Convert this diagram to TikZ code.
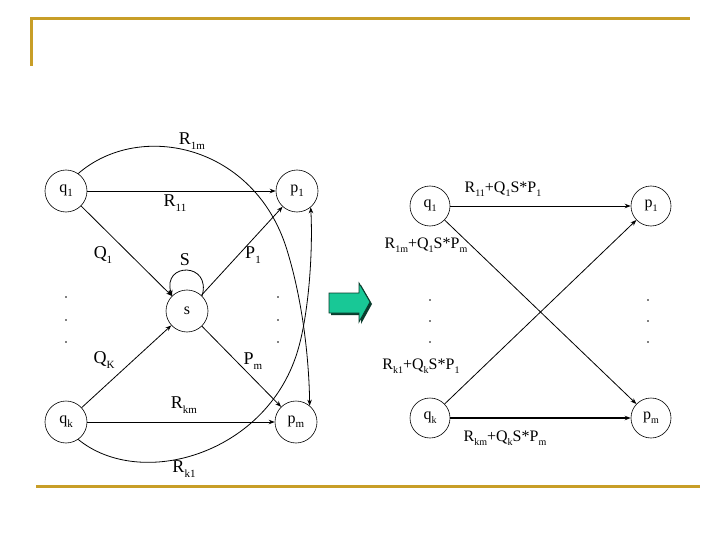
\documentclass[tikz,border=0pt]{standalone}
\usepackage{fontspec}
\setmainfont{Liberation Serif}
\usetikzlibrary{arrows.meta}
\definecolor{gold}{RGB}{200,158,40}
\definecolor{tealfill}{RGB}{24,200,150}
\definecolor{tealdark}{RGB}{10,60,45}
\newcommand\sbs[1]{\raisebox{-0.25em}{\fontsize{11}{11}\selectfont #1}}
\newcommand\rsbs[1]{\raisebox{-0.25em}{\fontsize{10}{10}\selectfont #1}}
\begin{document}
\begin{tikzpicture}[x=1pt,y=-1pt,
  st/.style={circle,draw,line width=0.6pt,minimum size=42pt,inner sep=0pt,font=\fontsize{16}{16}\selectfont},
  rst/.style={st,minimum size=40pt},
  arr/.style={line width=0.8pt,-{Stealth[length=6pt,width=4.5pt]}},
  lab/.style={inner sep=0pt,font=\fontsize{18}{18}\selectfont},
  rlab/.style={inner sep=0pt,font=\fontsize{16}{16}\selectfont},
  dotm/.style={circle,fill,inner sep=0pt,minimum size=1.8pt},
  gline/.style={gold,line width=3pt}]
\useasboundingbox (0,0) rectangle (720,540);
\fill[white] (0,0) rectangle (720,540);
% frame lines
\draw[gline] (31,66) -- (31,19) -- (690,19);
\draw[gline] (36,486) -- (700,486);

% left graph
\node[st] (q1) at (66,191) {q\sbs{1}};
\node[st] (p1) at (297,191) {p\sbs{1}};
\node[st] (s)  at (187,311) {s};
\node[st] (qk) at (66,422) {q\sbs{k}};
\node[st] (pm) at (296,422) {p\sbs{m}};

\draw[arr] (q1) -- (p1);
\draw[arr] (qk) -- (pm);
\draw[arr] (q1) -- (s);
\draw[arr] (qk) -- (s);
\draw[arr] (s) -- (p1);
\draw[arr] (s) -- (pm);
\draw[arr] (s.45) .. controls (212,262) and (162,262) .. (s.135);
\coordinate (c1) at (287,250);
\coordinate (c2) at (297,353);
\draw[arr] (q1.55) .. controls (140,120) and (255,145) .. (c1)
                   .. controls (303,302) and (309,360) .. (pm.50);
\draw[arr] (qk.-55) .. controls (140,490) and (265,455) .. (c2)
                    .. controls (309,315) and (313,250) .. (p1.-50);

\node[lab] (lR1m) at (192,141) {R\sbs{1m}};
\node[lab] (lR11) at (175,203) {R\sbs{11}};
\node[lab] (lQ1)  at (103,255) {Q\sbs{1}};
\node[lab] (lS)   at (185,260) {S};
\node[lab] (lP1)  at (253,255) {P\sbs{1}};
\node[lab] (lQK)  at (104,360) {Q\sbs{K}};
\node[lab] (lPm)  at (253,361) {P\sbs{m}};
\node[lab] (lRkm) at (184,405) {R\sbs{km}};
\node[lab] (lRk1) at (184,469) {R\sbs{k1}};

\foreach \yy [count=\i] in {297,320,342} {
  \node[dotm] (ld\i) at (66,\yy) {};
  \node[dotm] (rd\i) at (278,\yy) {};
}

% green arrow
\fill[tealdark] (331,295) -- (361,295) -- (361,285) -- (372,304) -- (361,324) -- (361,315) -- (331,315) -- cycle;
\draw[fill=tealfill,draw=tealdark,line width=0.8pt] (329,293) -- (359,293) -- (359,283) -- (370,302) -- (359,322) -- (359,313) -- (329,313) -- cycle;

% right graph
\node[rst] (rq1) at (430,206) {q\rsbs{1}};
\node[rst] (rp1) at (651,206) {p\rsbs{1}};
\node[rst] (rqk) at (430,418) {q\rsbs{k}};
\node[rst] (rpm) at (651,418) {p\rsbs{m}};

\draw[arr] (rq1) -- (rp1);
\draw[arr] (rq1) -- (rpm);
\draw[arr] (rqk) -- (rp1);
\draw[arr,line width=1.8pt] (rqk) -- (rpm);

\node[rlab] (rl1) at (503,189) {R\rsbs{11}+Q\rsbs{1}S*P\rsbs{1}};
\node[rlab] (rl2) at (426,245) {R\rsbs{1m}+Q\rsbs{1}S*P\rsbs{m}};
\node[rlab] (rl3) at (421,366) {R\rsbs{k1}+Q\rsbs{k}S*P\rsbs{1}};
\node[rlab] (rl4) at (505,438) {R\rsbs{km}+Q\rsbs{k}S*P\rsbs{m}};

\foreach \yy [count=\i] in {300,321,342} {
  \node[dotm] (rld\i) at (430,\yy) {};
  \node[dotm] (rrd\i) at (648,\yy) {};
}
\end{tikzpicture}
\end{document}
